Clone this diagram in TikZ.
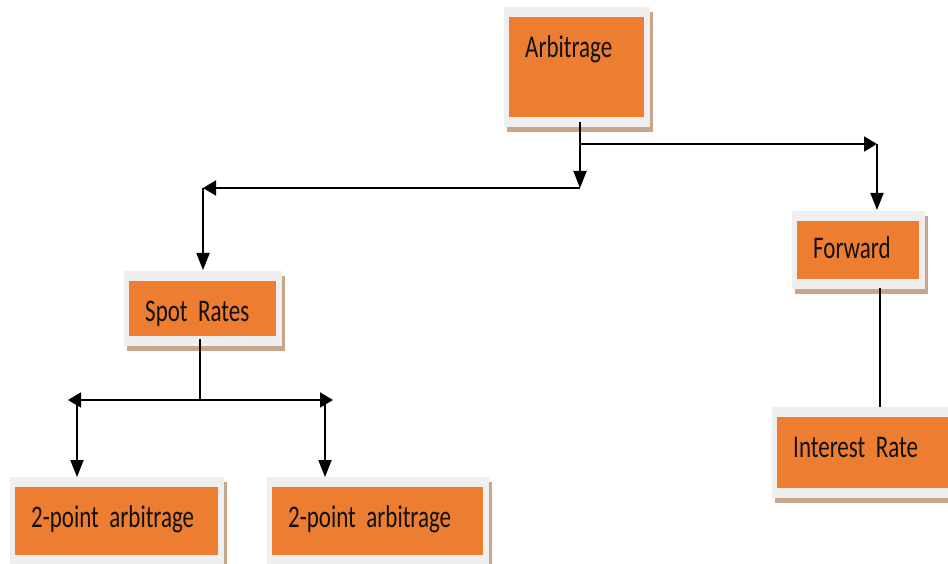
\documentclass[tikz,border=0pt]{standalone}
\usepackage{fontspec}
\newfontfamily\cardfont[FakeStretch=0.73]{Carlito}
\newcommand\cardtype{\cardfont\fontsize{31.5}{36}\selectfont\spaceskip 4.5pt\relax}
\usetikzlibrary{arrows.meta,calc,backgrounds}
\definecolor{cardorange}{HTML}{ED7D31}
\definecolor{cardframe}{HTML}{EFEFEF}
\definecolor{cardshade}{HTML}{C9A589}
\definecolor{cardink}{HTML}{111111}
\begin{document}
\begin{tikzpicture}[
  x=1pt, y=-1pt,
  card/.style={rectangle, fill=cardorange, anchor=north west, inner xsep=16pt, inner ysep=0pt, align=left, text=cardink, font=\cardtype, text height=20pt, text depth=7pt},
  link/.style={line width=1.8pt, draw=black},
  varr/.style={link, -{Triangle[length=17pt,width=13pt]}},
  harr/.style={link, -{Triangle[length=13pt,width=15pt]}},
  hboth/.style={link, {Triangle[length=13pt,width=15pt]}-{Triangle[length=13pt,width=15pt]}}
]
\useasboundingbox (0,0) rectangle (948,564);

\node[card, text width=103pt, minimum height=100pt, text depth=39pt] (arb) at (509,17) {Arbitrage};
\node[card, text width=115pt, minimum height=55pt, text height=31pt, text depth=6pt] (spot) at (129,281) {Spot Rates};
\node[card, text width=90pt, minimum height=58pt, text height=23pt, text depth=6pt] (fwd) at (797,221) {Forward};
\node[card, text width=170pt, minimum height=71pt, text depth=10pt] (irate) at (777,417) {Interest Rate};
\node[card, text width=171pt, minimum height=68pt] (pt_left) at (15,487) {2-point arbitrage};
\node[card, text width=179pt, minimum height=68pt] (pt_right) at (272,487) {2-point arbitrage};

% frames and shadows behind the boxes
\begin{scope}[on background layer]
\foreach \n in {arb,spot,fwd,irate,pt_left,pt_right} {
  \fill[cardshade] ($(\n.north west)+(-2,-5)$) rectangle ($(\n.south east)+(9,15)$);
  \fill[cardframe] ($(\n.north west)+(-5,-10)$) rectangle ($(\n.south east)+(6,10)$);
}
\end{scope}

\coordinate (hub_a) at (580,188);
\coordinate (arm_a) at (580,144);
\coordinate (turn_l) at (203,188);
\coordinate (turn_r) at (877,144);
\coordinate (hub_s) at (200,400);
\coordinate (tip_l) at (68,400);
\coordinate (tip_r) at (333,400);
\coordinate (drop_l) at (77,400);
\coordinate (drop_r) at (325,400);
\coordinate (fwd_out) at ($(fwd.south)+(22,0)$);

\draw[varr, shorten <=5pt] (arb.south -| hub_a) -- (hub_a);
\draw[harr] (hub_a) -- (turn_l);
\draw[varr, shorten >=11pt] (turn_l) -- (spot.north -| turn_l);
\draw[harr] (arm_a) -- (turn_r);
\draw[varr, shorten >=11pt] (turn_r) -- (fwd.north -| turn_r);

\draw[link, shorten <=3pt] (spot.south -| hub_s) -- (hub_s);
\draw[hboth] (tip_l) -- (tip_r);
\draw[varr, shorten >=10pt] (drop_l) -- (pt_left.north -| drop_l);
\draw[varr, shorten >=10pt] (drop_r) -- (pt_right.north -| drop_r);

\draw[link, shorten <=9pt, shorten >=10pt] (fwd_out) -- (fwd_out |- irate.north);
\end{tikzpicture}
\end{document}
